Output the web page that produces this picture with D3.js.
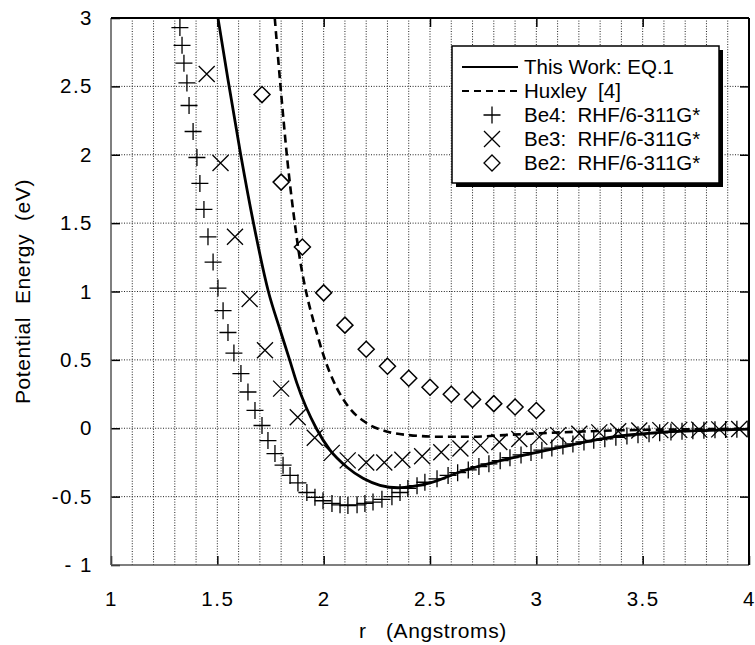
<!DOCTYPE html>
<html>
<head>
<meta charset="utf-8">
<script src="https://cdn.jsdelivr.net/npm/d3@7"></script>
<style>
  body { margin: 0; background: #fff; }
  text { font-family: "Liberation Sans", Arial, Helvetica, sans-serif; fill: #000; }
</style>
</head>
<body>
<svg id="chart"></svg>
<script>
// ---- data ----
var xTicks = [1, 1.5, 2, 2.5, 3, 3.5, 4];
var xTickLabels = ["1", "1.5", "2", "2.5", "3", "3.5", "4"];
var yTicks = [3, 2.5, 2, 1.5, 1, 0.5, 0, -0.5, -1];
var yTickLabels = ["3", "2.5", "2", "1.5", "1", "0.5", "0", "-0.5", "- 1"];

// This Work: EQ.1 (solid)
var eq1R = [1.503, 1.55, 1.61, 1.67, 1.74, 1.795, 1.84, 1.874, 1.965, 2.03, 2.11, 2.185, 2.265, 2.35, 2.42, 2.50, 2.64, 2.876, 3.11, 3.346, 3.58, 3.816, 4.0];
var eq1E = [3.0, 2.55, 2.0, 1.5, 1.0, 0.72, 0.5, 0.33, 0.0, -0.16, -0.285, -0.366, -0.417, -0.435, -0.425, -0.40, -0.32, -0.22, -0.14, -0.066, -0.03, -0.015, -0.007];

// Huxley [4] (dashed)
var huxR = [1.77, 1.80, 1.83, 1.86, 1.89, 1.92, 1.96, 2.00, 2.06, 2.12, 2.20, 2.30, 2.40, 2.55, 2.70, 2.85, 3.00, 3.20, 3.40, 3.60, 3.80, 4.00];
var huxE = [3.0, 2.45, 1.95, 1.55, 1.22, 0.98, 0.74, 0.53, 0.30, 0.15, 0.04, -0.025, -0.05, -0.062, -0.062, -0.05, -0.038, -0.025, -0.015, -0.01, -0.006, -0.004];

// Be4: RHF/6-311G* (+)
var be4R = [1.324, 1.334, 1.343, 1.357, 1.367, 1.386, 1.404, 1.418, 1.437, 1.456, 1.480, 1.503, 1.527, 1.550, 1.578, 1.611, 1.644, 1.677, 1.710, 1.738, 1.771, 1.809, 1.842, 1.879, 1.921, 1.959, 1.997, 2.039, 2.077, 2.114, 2.157, 2.194, 2.232, 2.274, 2.321, 2.359, 2.396, 2.439, 2.476,
            2.533, 2.585, 2.63, 2.68, 2.73, 2.777, 2.83, 2.876, 2.928, 2.975, 3.026, 3.073, 3.125, 3.172, 3.224, 3.27, 3.322, 3.374, 3.426, 3.478, 3.53, 3.58, 3.633, 3.685, 3.736, 3.788, 3.84, 3.89, 3.943, 3.995];
var be4E = [2.93, 2.80, 2.67, 2.525, 2.36, 2.17, 1.98, 1.79, 1.60, 1.40, 1.215, 1.025, 0.86, 0.70, 0.55, 0.40, 0.265, 0.13, 0.02, -0.09, -0.185, -0.27, -0.345, -0.40, -0.47, -0.505, -0.53, -0.55, -0.56, -0.565, -0.56, -0.55, -0.54, -0.52, -0.50, -0.47, -0.44, -0.42, -0.395,
            -0.37, -0.345, -0.325, -0.305, -0.28, -0.26, -0.237, -0.215, -0.195, -0.178, -0.16, -0.145, -0.13, -0.115, -0.10, -0.088, -0.077, -0.066, -0.056, -0.048, -0.04, -0.033, -0.027, -0.022, -0.018, -0.014, -0.011, -0.009, -0.007, -0.005];

// Be3: RHF/6-311G* (x)
var be3R = [1.45, 1.515, 1.583, 1.652, 1.724, 1.80, 1.878, 1.958, 2.038, 2.113, 2.20, 2.285, 2.37, 2.463, 2.553, 2.643, 2.737, 2.826, 2.92, 3.014, 3.103, 3.202, 3.296, 3.385, 3.484, 3.583, 3.672, 3.766, 3.86, 3.954];
var be3E = [2.59, 1.94, 1.40, 0.945, 0.57, 0.29, 0.08, -0.07, -0.18, -0.235, -0.25, -0.25, -0.23, -0.205, -0.175, -0.148, -0.125, -0.10, -0.078, -0.063, -0.05, -0.04, -0.03, -0.022, -0.017, -0.014, -0.012, -0.01, -0.008, -0.006];

// Be2: RHF/6-311G* (diamond)
var be2R = [1.71, 1.8, 1.9, 2.0, 2.1, 2.2, 2.3, 2.4, 2.5, 2.6, 2.7, 2.8, 2.9, 3.0];
var be2E = [2.44, 1.80, 1.325, 0.99, 0.754, 0.578, 0.454, 0.366, 0.30, 0.249, 0.21, 0.18, 0.155, 0.13];

var legendLabels = ["This Work: EQ.1", "Huxley  [4]", "Be4:  RHF/6-311G*", "Be3:  RHF/6-311G*", "Be2:  RHF/6-311G*"];

var zip = function(a, b) { return a.map(function(v, i) { return [v, b[i]]; }); };

// ---- layout ----
var W = 755, H = 645;
var plot = {left: 111, right: 749, top: 18, bottom: 565};

var svg = d3.select("#chart").attr("width", W).attr("height", H);

var x = d3.scaleLinear().domain([1, 4]).range([plot.left, plot.right]);
var y = d3.scaleLinear().domain([-1, 3]).range([plot.bottom, plot.top]);

// grid
var grid = svg.append("g").attr("stroke", "#222").attr("stroke-width", 1).attr("stroke-dasharray", "1,1.6");
grid.selectAll("line.v").data(d3.range(11, 40).map(function(d) { return d / 10; }))
  .enter().append("line")
  .attr("x1", function(d) { return x(d); }).attr("x2", function(d) { return x(d); })
  .attr("y1", plot.top).attr("y2", plot.bottom);
grid.selectAll("line.h").data([2.5, 2, 1.5, 1, 0.5, 0, -0.5])
  .enter().append("line")
  .attr("x1", plot.left).attr("x2", plot.right)
  .attr("y1", function(d) { return y(d); }).attr("y2", function(d) { return y(d); });

// axes (ticks inside the frame)
var styleTicks = function(g) {
  g.select(".domain").remove();
  g.selectAll("text").attr("font-size", 20.5).attr("letter-spacing", 1.5);
  g.selectAll("line").attr("stroke", "#000").attr("stroke-width", 1.5);
};
svg.append("g").attr("transform", "translate(0," + plot.bottom + ")")
  .call(d3.axisBottom(x).tickValues(xTicks).tickSize(-9).tickPadding(26).tickFormat(function(d, i) { return xTickLabels[i]; }))
  .call(styleTicks);
svg.append("g").attr("transform", "translate(0," + plot.top + ")")
  .call(d3.axisTop(x).tickValues(xTicks.slice(1, -1)).tickSize(-9).tickFormat(""))
  .call(styleTicks);
svg.append("g").attr("transform", "translate(" + plot.left + ",0)")
  .call(d3.axisLeft(y).tickValues(yTicks).tickSize(-9).tickPadding(18).tickFormat(function(d, i) { return yTickLabels[i]; }))
  .call(styleTicks);
svg.append("g").attr("transform", "translate(" + plot.right + ",0)")
  .call(d3.axisRight(y).tickValues(yTicks.slice(1, -1)).tickSize(-9).tickFormat(""))
  .call(styleTicks);

// frame
svg.append("line").attr("x1", plot.left).attr("x2", plot.left).attr("y1", plot.top).attr("y2", plot.bottom).attr("stroke", "#555").attr("stroke-width", 1.5);
svg.append("line").attr("x1", plot.left).attr("x2", plot.right).attr("y1", plot.bottom).attr("y2", plot.bottom).attr("stroke", "#555").attr("stroke-width", 1.5);
svg.append("line").attr("x1", plot.left).attr("x2", plot.right).attr("y1", plot.top).attr("y2", plot.top).attr("stroke", "#000").attr("stroke-width", 2);
svg.append("line").attr("x1", plot.right).attr("x2", plot.right).attr("y1", plot.top).attr("y2", plot.bottom).attr("stroke", "#000").attr("stroke-width", 2);

// clip for curves
svg.append("clipPath").attr("id", "plotclip").append("rect")
  .attr("x", plot.left).attr("y", plot.top).attr("width", plot.right - plot.left).attr("height", plot.bottom - plot.top);

var line = d3.line().x(function(d) { return x(d[0]); }).y(function(d) { return y(d[1]); }).curve(d3.curveMonotoneX);

var marks = svg.append("g").attr("clip-path", "url(#plotclip)");

// markers
var plusPath = "M-8.5,0H8.5M0,-8.5V8.5";
var crossPath = "M-8,-8L8,8M-8,8L8,-8";
var diamondPath = "M0,-8L8,0L0,8L-8,0Z";

marks.selectAll("path.be4").data(zip(be4R, be4E)).enter().append("path")
  .attr("class", "be4").attr("d", plusPath)
  .attr("transform", function(d) { return "translate(" + x(d[0]) + "," + y(d[1]) + ")"; })
  .attr("fill", "none").attr("stroke", "#000").attr("stroke-width", 1.3);
marks.selectAll("path.be3").data(zip(be3R, be3E)).enter().append("path")
  .attr("class", "be3").attr("d", crossPath)
  .attr("transform", function(d) { return "translate(" + x(d[0]) + "," + y(d[1]) + ")"; })
  .attr("fill", "none").attr("stroke", "#000").attr("stroke-width", 1.3);
marks.selectAll("path.be2").data(zip(be2R, be2E)).enter().append("path")
  .attr("class", "be2").attr("d", diamondPath)
  .attr("transform", function(d) { return "translate(" + x(d[0]) + "," + y(d[1]) + ")"; })
  .attr("fill", "#fff").attr("stroke", "#000").attr("stroke-width", 1.5);

marks.append("path").datum(zip(huxR, huxE)).attr("d", line)
  .attr("fill", "none").attr("stroke", "#000").attr("stroke-width", 2.6).attr("stroke-dasharray", "8,5");
marks.append("path").datum(zip(eq1R, eq1E)).attr("d", line)
  .attr("fill", "none").attr("stroke", "#000").attr("stroke-width", 2.8);

// axis titles
svg.append("text").attr("x", (plot.left + plot.right) / 2 + 3).attr("y", 638).attr("text-anchor", "middle")
  .attr("font-size", 21).attr("letter-spacing", 0.6).attr("xml:space", "preserve").text("r   (Angstroms)");
svg.append("text").attr("transform", "translate(30," + ((plot.top + plot.bottom) / 2) + ") rotate(-90)")
  .attr("text-anchor", "middle").attr("font-size", 21).attr("letter-spacing", 0.6).attr("xml:space", "preserve").text("Potential  Energy  (eV)");

// legend
var lg = svg.append("g");
var lx = 452, ly = 46, lw = 267, lh = 137;
lg.append("rect").attr("x", lx + 4).attr("y", ly + 4).attr("width", lw).attr("height", lh).attr("fill", "#000");
lg.append("rect").attr("x", lx).attr("y", ly).attr("width", lw).attr("height", lh).attr("fill", "#fff").attr("stroke", "#000").attr("stroke-width", 1.5);
var rowY = d3.scalePoint().domain(d3.range(5)).range([ly + 21, ly + 117]);
lg.append("line").attr("x1", lx + 10).attr("x2", lx + 66).attr("y1", rowY(0)).attr("y2", rowY(0)).attr("stroke", "#000").attr("stroke-width", 2);
lg.append("line").attr("x1", lx + 10).attr("x2", lx + 66).attr("y1", rowY(1)).attr("y2", rowY(1)).attr("stroke", "#000").attr("stroke-width", 2).attr("stroke-dasharray", "7,5");
[plusPath, crossPath, diamondPath].forEach(function(p, i) {
  lg.append("path").attr("d", p).attr("transform", "translate(" + (lx + 40) + "," + rowY(i + 2) + ")")
    .attr("fill", "none").attr("stroke", "#000").attr("stroke-width", 1.3);
});
lg.selectAll("text").data(legendLabels).enter().append("text")
  .attr("x", lx + 72).attr("y", function(d, i) { return rowY(i); }).attr("dy", "0.36em")
  .attr("font-size", 20.5).attr("xml:space", "preserve").text(function(d) { return d; });
</script>
</body>
</html>
